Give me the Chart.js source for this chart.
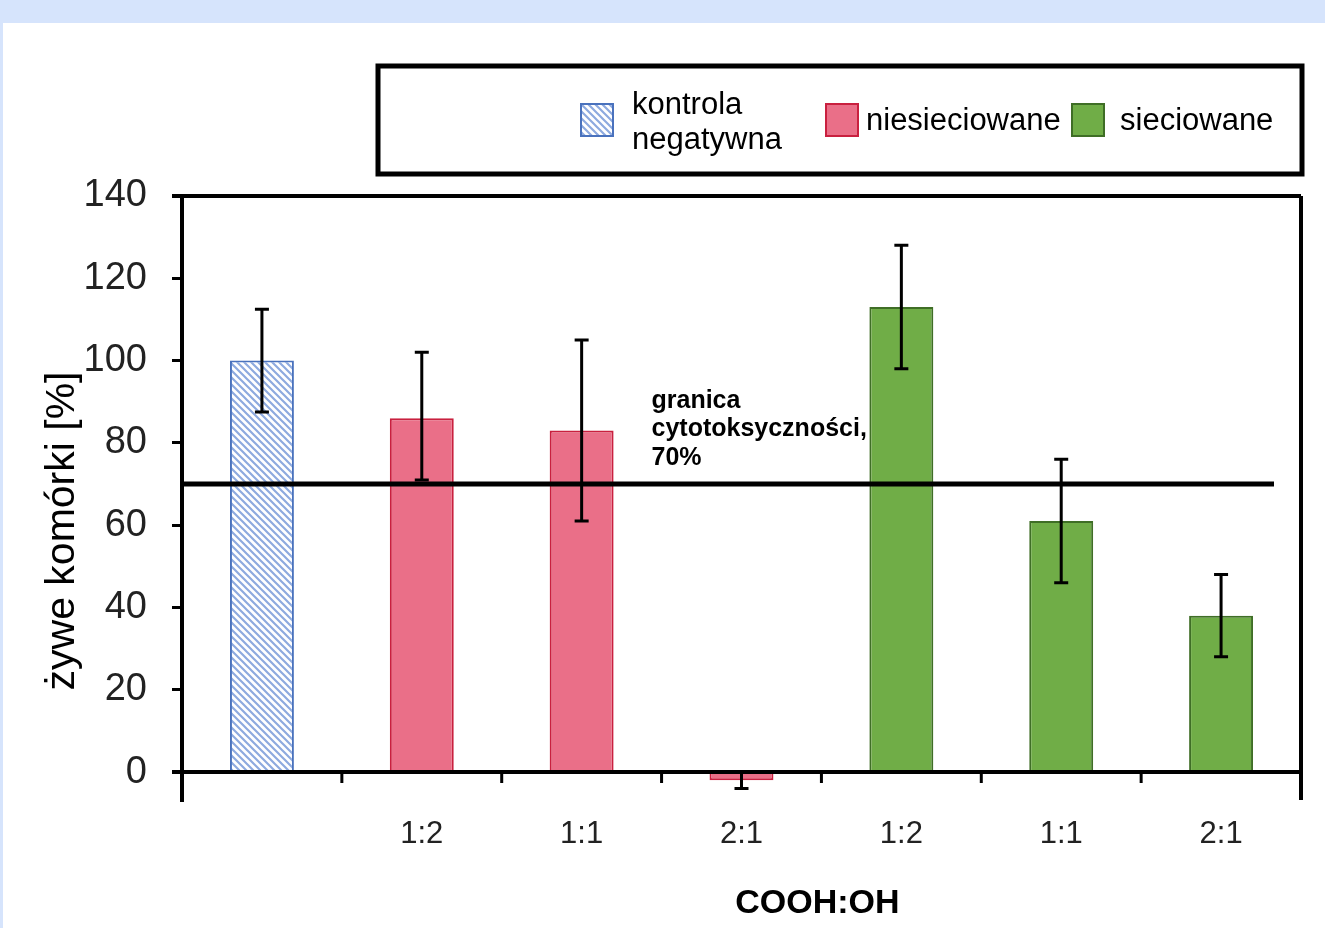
<!DOCTYPE html>
<html>
<head>
<meta charset="utf-8">
<script src="https://cdn.jsdelivr.net/npm/chart.js@4.4.1/dist/chart.umd.min.js"></script>
<style>
  html, body { margin: 0; padding: 0; background: #d6e4fc; }
  #wrap { position: absolute; left: 3px; top: 23px; width: 1322px; height: 905px; background: #fff; }
  canvas { display: block; }
</style>
</head>
<body>
<div id="wrap"><canvas id="chart" width="1322" height="905"></canvas></div>
<script>
// categories (COOH:OH ratio), first one is the negative control
const categories = ["", "1:2", "1:1", "2:1", "1:2", "1:1", "2:1"];

// living cells [%]
const kontrola = [100, null, null, null, null, null, null];
const niesieciowane = [null, 86, 83, -2, null, null, null];
const sieciowane = [null, null, null, null, 113, 61, 38];

// error bar ends [low, high]
const kontrolaErr = [[87.5, 112.5], null, null, null, null, null, null];
const niesieciowaneErr = [null, [71, 102], [61, 105], [-4, 0], null, null, null];
const sieciowaneErr = [null, null, null, null, [98, 128], [46, 76], [28, 48]];

const yTicks = [0, 20, 40, 60, 80, 100, 120, 140];
const threshold = 70;
const thresholdText = ["granica", "cytotoksyczności,", "70%"];

const font = "'Liberation Sans', Arial, sans-serif";

// hatch pattern for the control bar
function makeHatch() {
    const c = document.createElement("canvas");
    c.width = 7; c.height = 7;
    const g = c.getContext("2d");
    g.fillStyle = "#ffffff";
    g.fillRect(0, 0, 7, 7);
    g.strokeStyle = "#8eaadf";
    g.lineWidth = 2.2;
    g.beginPath();
    g.moveTo(-1, -1); g.lineTo(8, 8);
    g.moveTo(-8, -1); g.lineTo(1, 8);
    g.moveTo(6, -1); g.lineTo(15, 8);
    g.stroke();
    return g.createPattern(c, "repeat");
}
const hatch = makeHatch();

const errors = [kontrolaErr, niesieciowaneErr, sieciowaneErr];

const extras = {
    id: "extras",
    afterDatasetsDraw(chart) {
        const ctx = chart.ctx;
        const x = chart.scales.x, y = chart.scales.y;
        const area = chart.chartArea;
        ctx.save();

        // error bars
        ctx.strokeStyle = "#000";
        ctx.lineWidth = 3;
        errors.forEach(function (set) {
            set.forEach(function (e, i) {
                if (!e) return;
                const cx = x.getPixelForValue(i);
                const y1 = y.getPixelForValue(e[0]);
                const y2 = y.getPixelForValue(e[1]);
                ctx.beginPath();
                ctx.moveTo(cx, y1); ctx.lineTo(cx, y2);
                ctx.moveTo(cx - 7, y1); ctx.lineTo(cx + 7, y1);
                ctx.moveTo(cx - 7, y2); ctx.lineTo(cx + 7, y2);
                ctx.stroke();
            });
        });

        // frame: top, right, zero line
        const y0 = y.getPixelForValue(0);
        const yTop = y.getPixelForValue(140);
        ctx.lineWidth = 4;
        ctx.beginPath();
        ctx.moveTo(area.left - 10, yTop); ctx.lineTo(area.right, yTop);
        ctx.moveTo(area.right, yTop); ctx.lineTo(area.right, area.bottom);
        ctx.moveTo(area.left - 10, y0); ctx.lineTo(area.right, y0);
        ctx.stroke();

        // category tick marks on zero line
        ctx.lineWidth = 3;
        ctx.beginPath();
        for (let i = 1; i < categories.length; i++) {
            const bx = (x.getPixelForValue(i - 1) + x.getPixelForValue(i)) / 2;
            ctx.moveTo(bx, y0); ctx.lineTo(bx, y0 + 11);
        }
        ctx.stroke();

        // threshold line
        const yt = y.getPixelForValue(threshold);
        ctx.lineWidth = 5;
        ctx.beginPath();
        ctx.moveTo(area.left, yt); ctx.lineTo(area.right - 27, yt);
        ctx.stroke();

        // threshold note
        ctx.fillStyle = "#000";
        ctx.font = "bold 25px " + font;
        ctx.textBaseline = "middle";
        ctx.textAlign = "left";
        const tx = x.getPixelForValue(3) - 90;
        thresholdText.forEach(function (t, i) {
            ctx.fillText(t, tx, yt - 83 + i * 28.5);
        });

        // x axis title, centred over the labelled categories
        ctx.font = "bold 34px " + font;
        ctx.textAlign = "center";
        const mid = (x.getPixelForValue(1) + x.getPixelForValue(6)) / 2 - 4;
        ctx.fillText("COOH:OH", mid, 881);

        // y axis title
        ctx.save();
        ctx.translate(60, 508);
        ctx.rotate(-Math.PI / 2);
        ctx.font = "41px " + font;
        ctx.fillText("żywe komórki [%]", 0, 0);
        ctx.restore();

        // legend box
        ctx.lineWidth = 5;
        ctx.strokeStyle = "#000";
        ctx.strokeRect(375, 43, 924, 108);
        const items = chart.data.datasets;
        const sq = [[578, 81], [823, 81], [1069, 81]];
        items.forEach(function (ds, i) {
            ctx.fillStyle = ds.backgroundColor;
            ctx.fillRect(sq[i][0], sq[i][1], 32, 32);
            ctx.strokeStyle = ds.borderColor;
            ctx.lineWidth = 2;
            ctx.strokeRect(sq[i][0], sq[i][1], 32, 32);
        });
        ctx.fillStyle = "#000";
        ctx.font = "31px " + font;
        ctx.textAlign = "left";
        ctx.fillText("kontrola", 629, 82);
        ctx.fillText("negatywna", 629, 117);
        ctx.fillText("niesieciowane", 863, 98);
        ctx.fillText("sieciowane", 1117, 98);

        ctx.restore();
    }
};

new Chart(document.getElementById("chart"), {
    type: "bar",
    data: {
        labels: categories,
        datasets: [
            { label: "kontrola negatywna", data: kontrola, backgroundColor: hatch, borderColor: "#4a72bd", borderWidth: 2 },
            { label: "niesieciowane", data: niesieciowane, backgroundColor: "#ea6f88", borderColor: "#c9203f", borderWidth: 2 },
            { label: "sieciowane", data: sieciowane, backgroundColor: "#70ad47", borderColor: "#3f6e26", borderWidth: 2 }
        ]
    },
    options: {
        responsive: false,
        animation: false,
        layout: { padding: { left: 0, right: 24, top: 173, bottom: 0 } },
        datasets: { bar: { grouped: false, barPercentage: 0.4, categoryPercentage: 1 } },
        plugins: { legend: { display: false }, tooltip: { enabled: false } },
        scales: {
            x: {
                grid: { display: false },
                border: { display: false },
                ticks: { color: "#222", font: { family: font, size: 31 }, padding: 8, maxRotation: 0 },
                afterFit: function (s) { s.height = 128; }
            },
            y: {
                min: -6.8,
                max: 140,
                afterBuildTicks: function (s) { s.ticks = yTicks.map(function (v) { return { value: v }; }); },
                grid: { drawOnChartArea: false, drawTicks: true, tickLength: 10, color: "#000", lineWidth: 3 },
                border: { display: true, color: "#000", width: 4 },
                ticks: { color: "#222", font: { family: font, size: 38 }, padding: 25 },
                afterFit: function (s) { s.width = 179; }
            }
        }
    },
    plugins: [extras]
});
</script>
</body>
</html>
